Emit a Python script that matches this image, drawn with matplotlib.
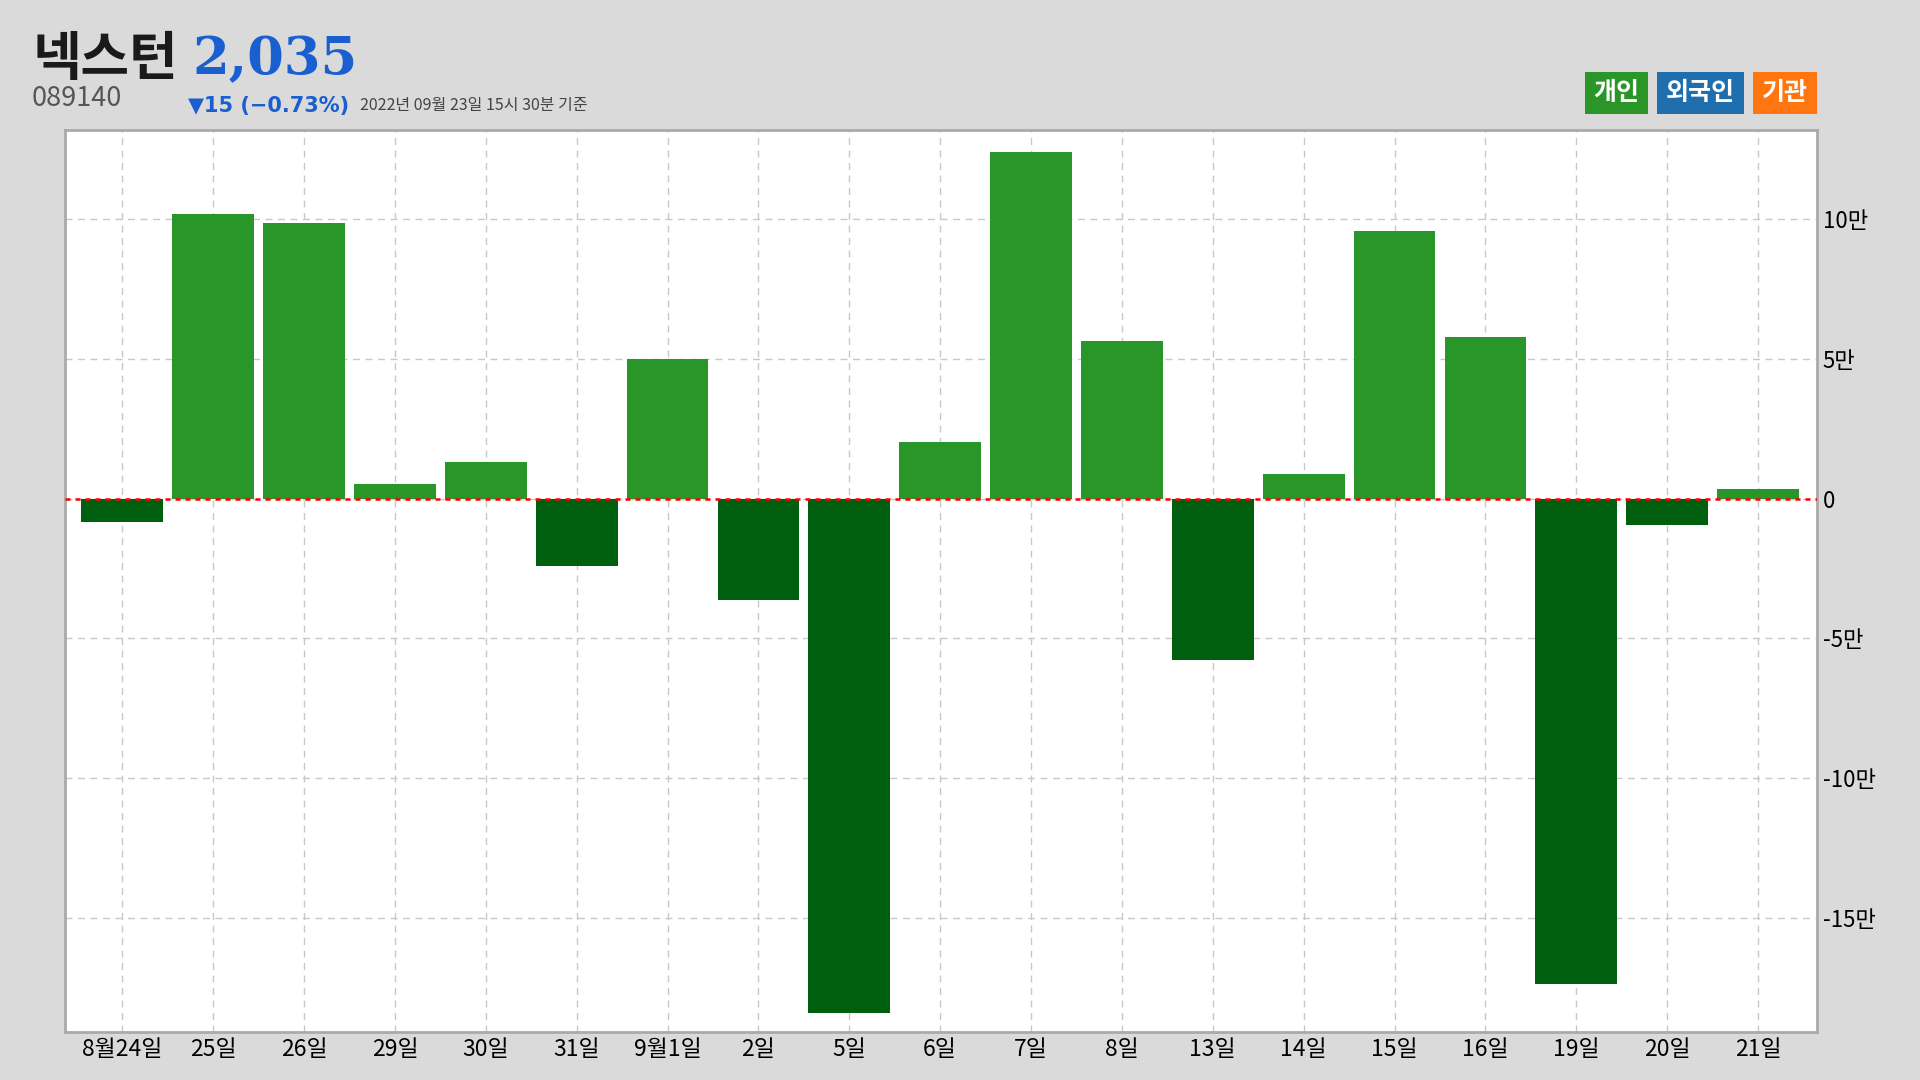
import numpy as np
import matplotlib.pyplot as plt

plt.rcParams['font.family'] = ['Noto Sans CJK KR', 'DejaVu Sans']

# 개인 순매수 (주)
dates = ['8월24일', '25일', '26일', '29일', '30일', '31일', '9월1일', '2일', '5일', '6일',
         '7일', '8일', '13일', '14일', '15일', '16일', '19일', '20일', '21일']
values = [-8300, 102000, 98700, 5300, 13200, -24100, 50000, -36400, -184200, 20200,
          124100, 56600, -57900, 8800, 96000, 57900, -173700, -9600, 3500]
yticks = [-150000, -100000, -50000, 0, 50000, 100000]
ytick_labels = ['-15만', '-10만', '-5만', '0', '5만', '10만']

name = '넥스턴'
code = '089140'
price = '2,035'
change = '▼15 (−0.73%)'
stamp = '2022년 09월 23일 15시 30분 기준'

bg = '#dadada'
pos_color = '#289628'
neg_color = '#005f0f'

fig = plt.figure(figsize=(19.2, 10.8), dpi=100, facecolor=bg)
ax = fig.add_axes([0.0339, 0.0444, 0.9125, 0.8352])
ax.set_facecolor('white')

x = np.arange(len(dates))
colors = [pos_color if v >= 0 else neg_color for v in values]
ax.bar(x, values, width=0.9, color=colors, zorder=3)
ax.axhline(0, color='red', linestyle=(0, (2, 2)), linewidth=1.8, zorder=4)

ax.set_xlim(-0.63, 18.65)
ax.set_ylim(-191000, 132000)
ax.set_xticks(x)
ax.set_xticklabels(dates, fontsize=16.5)
ax.set_yticks(yticks)
ax.set_yticklabels(ytick_labels, fontsize=16)
ax.yaxis.tick_right()
ax.tick_params(axis='x', length=0, pad=4)
ax.tick_params(axis='y', length=0, pad=4)
ax.grid(True, color='#c8c8c8', linestyle=(0, (5, 4)), linewidth=1, zorder=0)
for s in ax.spines.values():
    s.set_color('#aaaaaa')
    s.set_linewidth(2)

# header
fig.text(0.0167, 0.945, name, fontsize=38, fontweight='bold', color='#1a1a1a', va='center')
fig.text(0.100, 0.945, price, fontsize=38, fontweight='bold', color='#1a5fd0', va='center',
         family=['DejaVu Serif'])
fig.text(0.0167, 0.909, code, fontsize=19.5, color='#555555', va='center')
fig.text(0.098, 0.902, change, fontsize=15, fontweight='bold', color='#1a5fd0', va='center',
         family=['DejaVu Sans'])
fig.text(0.1875, 0.902, stamp, fontsize=11.5, color='#444444', va='center')

# legend boxes
for label, col, xpos in [('개인', '#2a9628', 0.8418), ('외국인', '#1f6fae', 0.8858), ('기관', '#ff7510', 0.9298)]:
    fig.text(xpos, 0.914, label, fontsize=18, fontweight='bold', color='white', ha='center',
             va='center', bbox=dict(boxstyle='square,pad=0.35', facecolor=col, edgecolor='none'))

fig.savefig('out.png', dpi=100, facecolor=bg)
